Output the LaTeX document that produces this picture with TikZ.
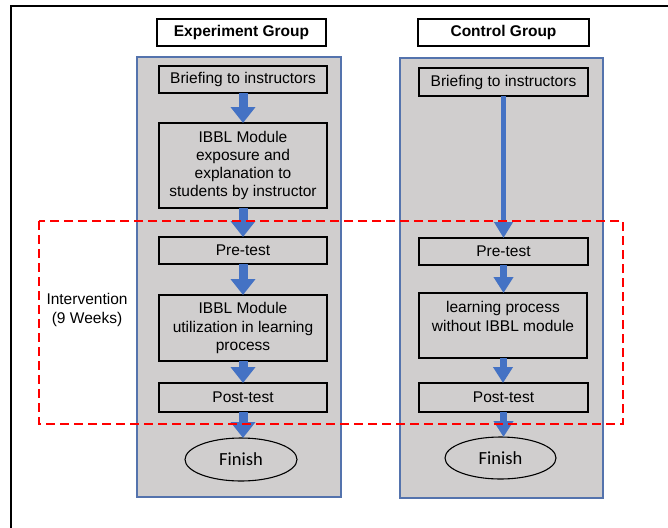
\documentclass[tikz,border=0pt]{standalone}
\usepackage{fontspec}
\setmainfont{Liberation Sans}
\newfontfamily\finishfont{Carlito}
\usetikzlibrary{arrows.meta,shapes.geometric}
\definecolor{panelgray}{HTML}{D0CECE}
\definecolor{arrowblue}{HTML}{4472C4}
\definecolor{panelborder}{HTML}{5473AD}
\begin{document}
\begin{tikzpicture}[x=1pt,y=-1pt,
  every node/.style={inner sep=0pt, outer sep=0pt},
  txt/.style={font=\fontsize{15.5}{18.3}\selectfont, align=center},
  stepbox/.style={txt, draw=black, line width=1.6pt, fill=panelgray, minimum width=168pt},
  titlebox/.style={draw=black, line width=2.2pt, fill=white, font=\bfseries\fontsize{15.5}{18}\selectfont, minimum height=27pt},
  panel/.style={draw=panelborder, line width=1.2pt, fill=panelgray},
  finishnode/.style={ellipse, draw=black, line width=1.1pt, fill=panelgray, font=\finishfont\fontsize{18.5}{20}\selectfont},
  flow/.style={draw=arrowblue, line width=9pt, -{Triangle[width=24pt,length=16pt]}},
  cflow/.style={draw=arrowblue, line width=7pt, -{Triangle[width=19pt,length=16pt]}},
  longflow/.style={draw=arrowblue, line width=5.5pt, -{Triangle[width=18pt,length=16pt]}}
]
\useasboundingbox (0,0) rectangle (668,527);
% outer frame (partially visible)
\draw[line width=2pt] (11,560) -- (11,6) -- (700,6);

% panels
\draw[panel] (137,57) rectangle (341,497);
\draw[panel] (400,58) rectangle (603,498);

% titles
\node[titlebox, minimum width=169pt] (etitle) at (241.5,32.5) {Experiment Group};
\node[titlebox, minimum width=171pt] (ctitle) at (503.5,32.5) {Control Group};

% experiment group
\node[stepbox, minimum height=27pt] (ebrief) at (243,79.5) {Briefing to instructors};
\node[stepbox, minimum height=85pt] (eexpo) at (243,165.5) {IBBL Module\\exposure and\\explanation to\\students by instructor};
\node[stepbox, minimum height=27pt] (epre) at (243,250.5) {Pre-test};
\node[stepbox, minimum height=66pt] (eutil) at (243,328) {IBBL Module\\utilization in learning\\process};
\node[stepbox, minimum height=29pt] (epost) at (243,397.5) {Post-test};
\node[finishnode, minimum width=112pt, minimum height=43pt] (efin) at (241,459.5) {Finish};

% control group
\node[stepbox, minimum width=169pt, minimum height=28pt] (cbrief) at (503.5,82) {Briefing to instructors};
\node[stepbox, minimum width=169pt, minimum height=27pt] (cpre) at (503.5,251.5) {Pre-test};
\node[stepbox, minimum width=168pt, minimum height=65pt] (clearn) at (503,325.5) {learning process\\without IBBL module\\\mbox{}};
\node[stepbox, minimum width=169pt, minimum height=29pt] (cpost) at (503.5,397.5) {Post-test};
\node[finishnode, minimum width=111pt, minimum height=42pt] (cfin) at (500.5,458) {Finish};

% arrows experiment
\draw[flow] (ebrief.south) -- (eexpo.north);
\draw[flow] (eexpo.south) -- (epre.north);
\draw[flow] (epre.south) -- (eutil.north);
\draw[flow] (eutil.south) -- (epost.north);
\draw[flow] (epost.south) -- (epost.south |- efin.north);

% arrows control
\draw[longflow] (cbrief.south) -- (cpre.north);
\draw[cflow] (cpre.south) -- (cpre.south |- clearn.north);
\draw[cflow] (clearn.south) -- (clearn.south |- cpost.north);
\draw[cflow] (cpost.south) -- (cpost.south |- cfin.north);

% intervention
\draw[red, line width=1.4pt, dash pattern=on 9pt off 5pt] (39,221) rectangle (623,424);
\node[txt] (interv) at (87,310) {Intervention\\(9 Weeks)};
\end{tikzpicture}
\end{document}
